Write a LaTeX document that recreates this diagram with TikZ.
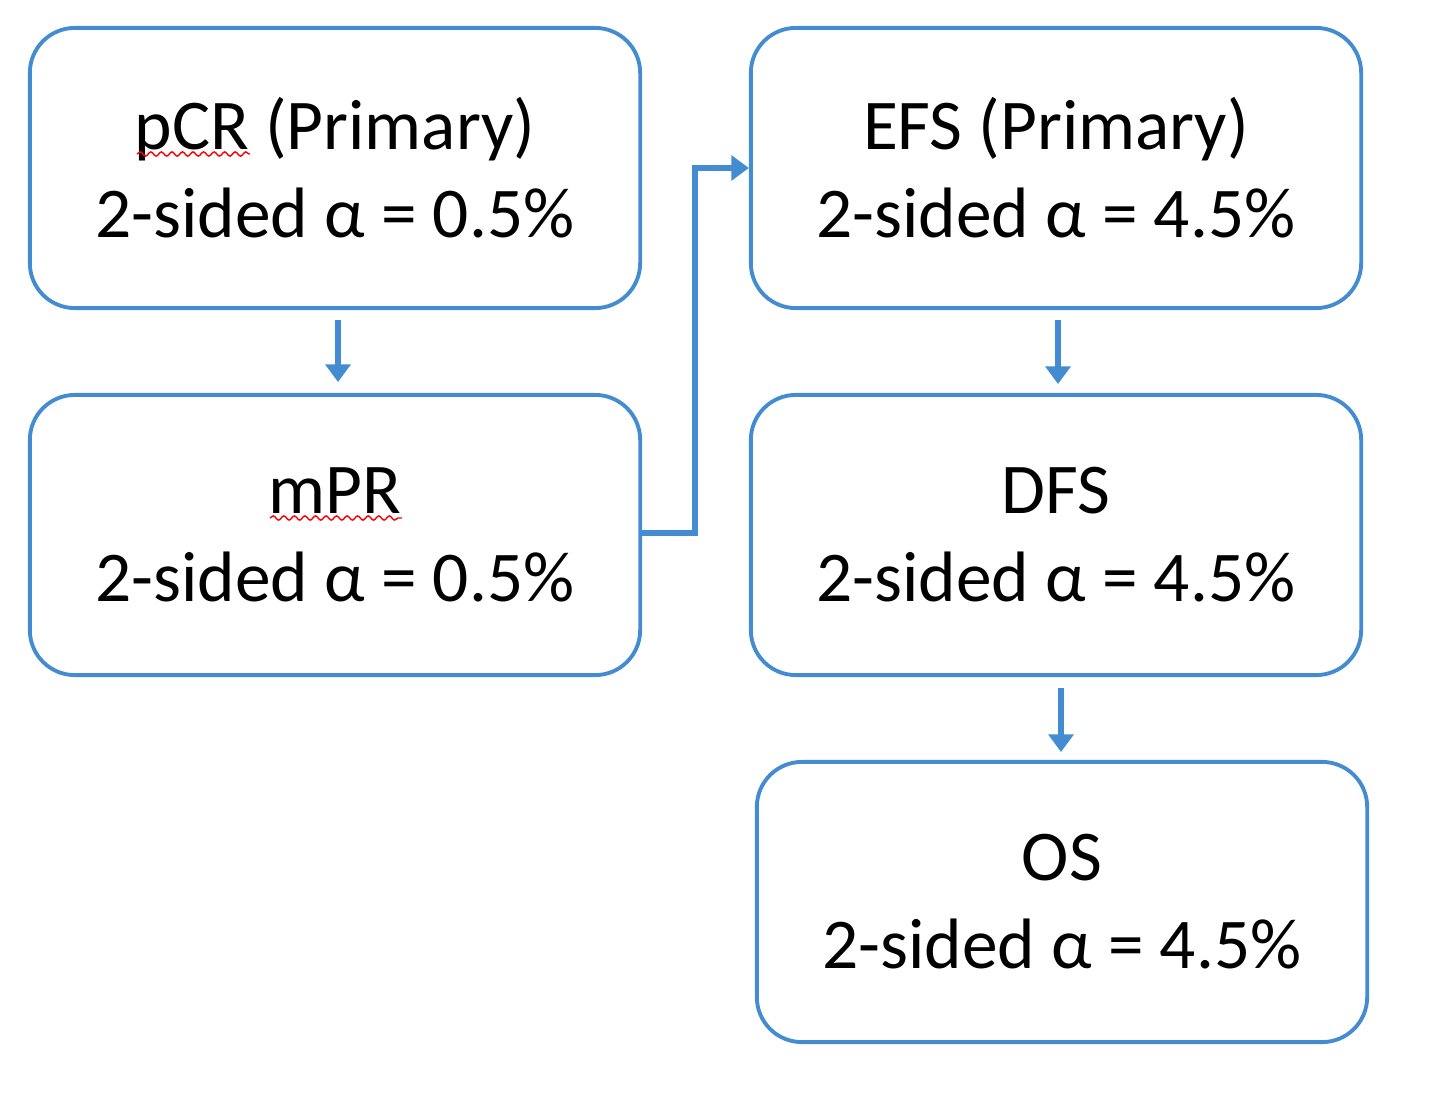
\documentclass[tikz,border=0pt]{standalone}
\usepackage{fontspec}
\setmainfont{Carlito}
\usetikzlibrary{arrows.meta,decorations.pathmorphing}
\definecolor{bblue}{RGB}{68,140,210}
\begin{document}
\begin{tikzpicture}[x=0.01cm,y=-0.01cm,
  box/.style={draw=bblue,line width=1.1pt,rounded corners=0.45cm,minimum width=6.1cm,minimum height=2.8cm,align=center,font=\fontsize{20.3}{25}\selectfont,inner sep=0pt},
  conn/.style={draw=bblue,line width=1.6pt,-{Triangle[length=5pt,width=7pt]}},
  squig/.style={red,line width=0.4pt,decorate,decoration={snake,amplitude=0.6pt,segment length=3pt}}]
\useasboundingbox (0,0) rectangle (1431,1100);
\node[box] (pcr) at (335,168) {pCR (Primary)\\2-sided α = 0.5\%};
\node[box] (mpr) at (335,535) {mPR\\2-sided α = 0.5\%};
\node[box] (efs) at (1056,168) {EFS (Primary)\\2-sided α = 4.5\%};
\node[box] (dfs) at (1056,535) {DFS\\2-sided α = 4.5\%};
\node[box] (os) at (1062,902) {OS\\2-sided α = 4.5\%};
\coordinate (a1) at (338,320); \coordinate (a2) at (338,382);
\draw[conn] (a1) -- (a2);
\coordinate (b1) at (1058,320); \coordinate (b2) at (1058,384);
\draw[conn] (b1) -- (b2);
\coordinate (c1) at (1061,688); \coordinate (c2) at (1061,752);
\draw[conn] (c1) -- (c2);
\coordinate (m1) at (695,533); \coordinate (m2) at (695,168);
\draw[conn] (mpr.east |- m1) -- (m1) -- (m2) -- (efs.west |- m2);
\coordinate (u1) at (137,154); \coordinate (u2) at (250,154);
\draw[squig] (u1) -- (u2);
\coordinate (v1) at (270,518); \coordinate (v2) at (402,518);
\draw[squig] (v1) -- (v2);
\end{tikzpicture}
\end{document}
